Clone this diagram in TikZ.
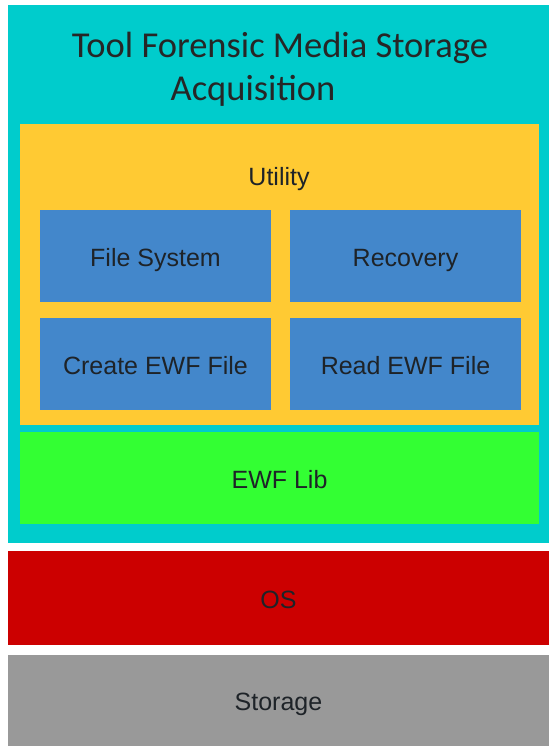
\documentclass[tikz,border=0pt]{standalone}
\usepackage{fontspec}
\setmainfont{Liberation Sans}
\newfontfamily\titlefont{Carlito}
\definecolor{layercyan}{HTML}{00CCCC}
\definecolor{utilyellow}{HTML}{FFCA33}
\definecolor{modblue}{HTML}{4387CB}
\definecolor{libgreen}{HTML}{33FF33}
\definecolor{osred}{HTML}{CC0000}
\definecolor{storegray}{HTML}{999999}
\definecolor{labeltext}{HTML}{1E2328}
\begin{document}
\begin{tikzpicture}[x=1pt,y=-1pt,
  layer/.style={rectangle, inner sep=0pt, outer sep=0pt, draw=none,
    text=labeltext, font=\fontsize{25}{28}\selectfont,
    text height=20pt, text depth=0pt},
  module/.style={layer, fill=modblue, minimum width=231pt, minimum height=92pt},
  caption/.style={inner sep=0pt, text=labeltext, font=\fontsize{25}{28}\selectfont},
  titletext/.style={inner sep=0pt, anchor=base, text=black!85,
    font=\titlefont\fontsize{36.5}{40}\selectfont}]
  \useasboundingbox (0,0) rectangle (549,746);
  \fill[white] (0,0) rectangle (549,746);

  % application layer with its title
  \node[layer, fill=layercyan, minimum width=541pt, minimum height=538pt] (app) at (278.5,274) {};
  \node[titletext] (title1) at (280,58) {Tool Forensic Media Storage};
  \node[titletext] (title2) at (253,101) {Acquisition};

  % utility block and its modules
  \node[layer, fill=utilyellow, minimum width=519pt, minimum height=301pt] (util) at (279.5,274.5) {};
  \node[caption] (utillabel) at (279,179) {Utility};
  \node[module] (fs)   at (155.5,256) {File System};
  \node[module] (rec)  at (405.5,256) {Recovery};
  \node[module] (cewf) at (155.5,364) {Create EWF File};
  \node[module] (rewf) at (405.5,364) {Read EWF File};

  % library, operating system and storage layers
  \node[layer, fill=libgreen, minimum width=519pt, minimum height=92pt] (lib) at (279.5,478) {EWF Lib};
  \node[layer, fill=osred, minimum width=541pt, minimum height=94pt] (os) at (278.5,598) {OS};
  \node[layer, fill=storegray, minimum width=541pt, minimum height=91pt] (store) at (278.5,700.5) {Storage};
\end{tikzpicture}
\end{document}
